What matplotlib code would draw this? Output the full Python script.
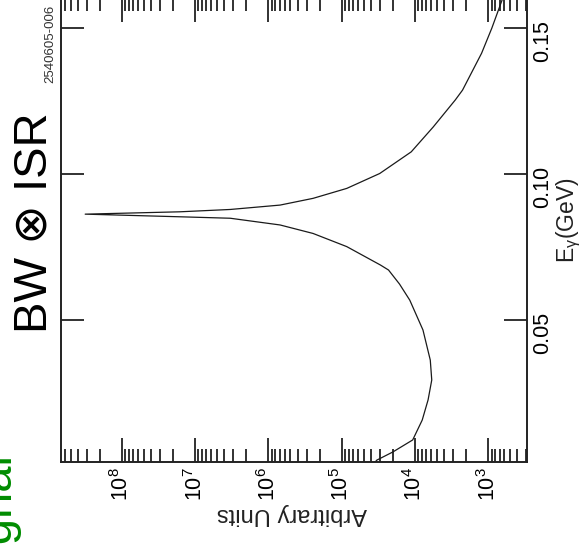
import matplotlib
matplotlib.use('Agg')
import matplotlib.pyplot as plt
import numpy as np
from matplotlib.ticker import LogLocator, NullFormatter

# ---- data read from the (rotated) reference ----
energy_gev = [0.0016, 0.0022, 0.0050, 0.0091, 0.0159, 0.0228, 0.0296, 0.0364,
              0.0467, 0.0569, 0.0624, 0.0672, 0.0689, 0.0752, 0.0797, 0.0826,
              0.0849, 0.0854, 0.0863, 0.0871, 0.0879, 0.0894, 0.0917, 0.0951,
              0.1002, 0.1076, 0.1161, 0.1253, 0.1287, 0.1413, 0.1499, 0.1602]
log10_units = [4.54, 4.52, 4.30, 4.03, 3.90, 3.82, 3.77, 3.79,
               3.89, 4.07, 4.21, 4.36, 4.47, 4.93, 5.39, 5.84,
               6.52, 7.21, 8.50, 7.21, 6.52, 5.84, 5.39, 4.93,
               4.48, 4.05, 3.75, 3.45, 3.35, 3.09, 2.95, 2.80]
units = [10.0 ** v for v in log10_units]

e_ticks = [0.05, 0.10, 0.15]
e_tick_labels = ['0.05', '0.10', '0.15']
u_ticks = [1e8, 1e7, 1e6, 1e5, 1e4, 1e3]
u_tick_labels = [r'$\mathregular{10^{%d}}$' % k for k in [8, 7, 6, 5, 4, 3]]

plt.rcParams['font.family'] = ['Liberation Sans', 'DejaVu Sans']
plt.rcParams['mathtext.fontset'] = 'custom'
plt.rcParams['mathtext.rm'] = 'Liberation Sans'
plt.rcParams['mathtext.it'] = 'Liberation Sans'
plt.rcParams['mathtext.bf'] = 'Liberation Sans:bold'
plt.rcParams['mathtext.default'] = 'regular'

W, H = 582, 546
fig = plt.figure(figsize=(W / 100, H / 100), dpi=100)


def px(x, y):
    return (x / W, 1 - y / H)


ax = fig.add_axes([61 / W, 1 - 462 / H, 466 / W, 464 / H])
ax.plot(units, energy_gev, color='#1a1a1a', lw=0.9)
ax.set_xscale('log')
ax.set_xlim(10 ** 8.83, 10 ** 2.47)
ax.set_ylim(0.00156, 0.1602)

ax.set_xticks(u_ticks)
ax.set_xticklabels(u_tick_labels)
ax.xaxis.set_minor_locator(LogLocator(base=10, subs=np.arange(2, 10) * 1.0, numticks=100))
ax.xaxis.set_minor_formatter(NullFormatter())
ax.set_yticks(e_ticks)
ax.set_yticklabels(e_tick_labels)

ax.tick_params(axis='x', which='both', direction='in', top=True, bottom=True,
               labelbottom=True, labeltop=False, width=1.3, color='#222222')
ax.tick_params(axis='x', which='major', length=17, pad=3.5, labelsize=15.5,
               labelrotation=90)
ax.tick_params(axis='x', which='minor', length=9.4)
ax.tick_params(axis='y', which='major', direction='in', left=True, right=True,
               labelleft=False, labelright=True, labelrotation=90, length=16.6,
               width=1.3, pad=3.5, labelsize=15.5, color='#222222')
for s in ax.spines.values():
    s.set_linewidth(1.4)
    s.set_color('#222222')

# axis labels (figure is rotated)
fig.text(*px(292, 508), 'Arbitrary Units', rotation=180, rotation_mode='anchor',
         ha='center', va='baseline', fontsize=17, color='#222222')
fig.text(*px(574, 220), r'$\mathregular{E_{\gamma}(GeV)}$', rotation=90,
         rotation_mode='anchor', ha='center', va='baseline', fontsize=16.5,
         color='#222222')

# annotations
fig.text(*px(47, 223), 'BW ⊗ ISR', rotation=90, rotation_mode='anchor',
         ha='center', va='baseline', fontsize=34, color='black',
         family=['Liberation Sans', 'DejaVu Sans'])
fig.text(*px(10, 452), 'Signal', rotation=90, rotation_mode='anchor',
         ha='right', va='baseline', fontsize=34, color='#008c00')
fig.text(*px(53, 44), '2540605-006', rotation=90, rotation_mode='anchor',
         ha='center', va='baseline', fontsize=9.5, color='#333333')

fig.savefig('out.png', dpi=100)
